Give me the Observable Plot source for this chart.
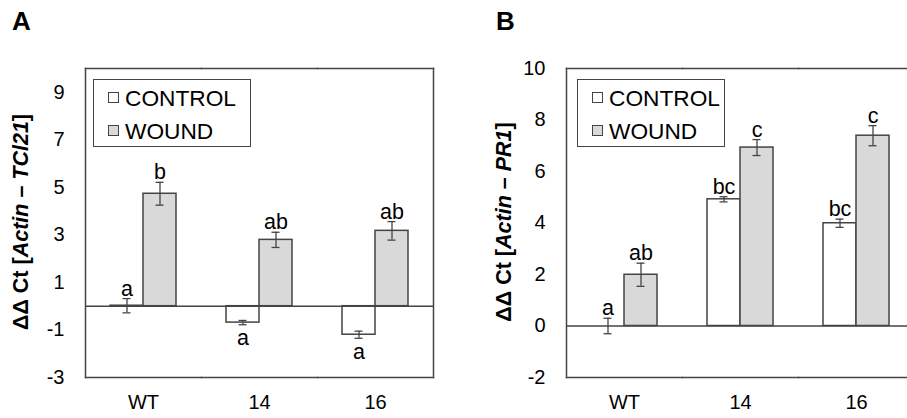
<!DOCTYPE html>
<html>
<head>
<meta charset="utf-8">
<script src="https://cdn.jsdelivr.net/npm/d3@7"></script>
<script src="https://cdn.jsdelivr.net/npm/@observablehq/plot@0.6"></script>
<style>
  html, body { margin: 0; padding: 0; background: #fff; overflow: hidden; }
  #chart { position: relative; width: 907px; height: 418px; overflow: hidden; font-family: "Liberation Sans", Arial, sans-serif; color: #000; }
  .panel { position: absolute; top: 0; }
  .plabel { position: absolute; font-weight: bold; font-size: 26px; line-height: 1; }
  .ytitle { position: absolute; font-weight: bold; font-size: 21.5px; white-space: nowrap; transform: translate(-50%, -50%) rotate(-90deg); line-height: 1; }
  .legend { position: absolute; border: 1.5px solid #444; box-sizing: border-box; background: #fff; }
  .legend .sw { position: absolute; width: 11px; height: 11px; border: 1px solid #444; box-sizing: border-box; }
  .legend .lt { position: absolute; font-size: 22.7px; line-height: 1; transform: translateY(-50%); }
</style>
</head>
<body>
<div id="chart"></div>
<script>
// ---- data ----
const groups = ["WT", "14", "16"];
const series = ["CONTROL", "WOUND"];
const seriesFill = ["#ffffff", "#d9d9d9"];

// Panel A: ΔΔCt [Actin – TCl21]
const ticksA = [-3, -1, 1, 3, 5, 7, 9];
const controlA = [0.02, -0.69, -1.2];
const controlErrA = [0.3, 0.09, 0.15];
const woundA = [4.73, 2.79, 3.17];
const woundErrA = [0.48, 0.32, 0.39];
const controlLetA = ["a", "a", "a"];
const woundLetA = ["b", "ab", "ab"];

// Panel B: ΔΔCt [Actin – PR1]
const ticksB = [-2, 0, 2, 4, 6, 8, 10];
const controlB = [0.0, 4.92, 3.99];
const controlErrB = [0.3, 0.1, 0.16];
const woundB = [1.99, 6.93, 7.39];
const woundErrB = [0.45, 0.31, 0.39];
const controlLetB = ["a", "bc", "bc"];
const woundLetB = ["ab", "c", "c"];

function rows(ctrl, ctrlErr, ctrlLet, wnd, wndErr, wndLet) {
  const out = [];
  groups.forEach((g, i) => {
    out.push({group: g, series: series[0], value: ctrl[i], err: ctrlErr[i], letter: ctrlLet[i]});
    out.push({group: g, series: series[1], value: wnd[i], err: wndErr[i], letter: wndLet[i]});
  });
  return out;
}

const ink = "#444444";
const sw = 1.5;

function panel({data, ticks, domain, width, marginLeft, marginRight}) {
  const pos = data.filter(d => d.value >= 0);
  const neg = data.filter(d => d.value < 0);
  return Plot.plot({
    width, height: 418,
    marginTop: 68, marginBottom: 41, marginLeft, marginRight,
    style: {fontFamily: "'Liberation Sans', Arial, sans-serif", fontSize: "20px", color: "#000", background: "transparent", overflow: "visible"},
    fx: {domain: groups, padding: 0, label: null, axis: null},
    x: {domain: series, paddingInner: 0, paddingOuter: 0.75, axis: null},
    y: {domain, label: null, axis: null},
    color: {domain: series, range: seriesFill},
    marks: [
      Plot.axisY({ticks, tickSize: 0, tickPadding: 21, fontSize: 20, label: null, tickFormat: d => String(d), fill: "#000"}),
      Plot.axisFx({anchor: "bottom", tickSize: 0, tickPadding: 17, fontSize: 20, label: null, fill: "#000"}),
      Plot.barY(data, {fx: "group", x: "series", y: "value", fill: "series", stroke: ink, strokeWidth: sw}),
      Plot.ruleY([0], {stroke: ink, strokeWidth: sw}),
      Plot.ruleX(data, {fx: "group", x: "series", y1: d => d.value - d.err, y2: d => d.value + d.err, stroke: ink, strokeWidth: 1.3}),
      Plot.tickY(data, {fx: "group", x: "series", y: d => d.value - d.err, stroke: ink, strokeWidth: 1.3, insetLeft: 12.5, insetRight: 12.5}),
      Plot.tickY(data, {fx: "group", x: "series", y: d => d.value + d.err, stroke: ink, strokeWidth: 1.3, insetLeft: 12.5, insetRight: 12.5}),
      Plot.text(pos, {fx: "group", x: "series", y: d => d.value + d.err, text: "letter", lineAnchor: "bottom", dy: -3, fontSize: 21.5, fill: "#000"}),
      Plot.text(neg, {fx: "group", x: "series", y: d => d.value - d.err, text: "letter", lineAnchor: "top", dy: 5, fontSize: 21.5, fill: "#000"}),
      Plot.frame({anchor: "top", stroke: ink, strokeWidth: sw}),
      Plot.frame({anchor: "bottom", stroke: ink, strokeWidth: sw}),
      Plot.frame({anchor: "left", facetAnchor: "left", stroke: ink, strokeWidth: sw}),
      Plot.frame({anchor: "right", facetAnchor: "right", stroke: ink, strokeWidth: sw})
    ]
  });
}

const chart = document.getElementById("chart");

const plotA = panel({
  data: rows(controlA, controlErrA, controlLetA, woundA, woundErrA, woundLetA),
  ticks: ticksA, domain: [-3, 10], width: 460, marginLeft: 84, marginRight: 27
});
plotA.classList.add("panel");
plotA.style.left = "0px";
chart.appendChild(plotA);

const plotB = panel({
  data: rows(controlB, controlErrB, controlLetB, woundB, woundErrB, woundLetB),
  ticks: ticksB, domain: [-2, 10], width: 454, marginLeft: 106, marginRight: 0
});
plotB.classList.add("panel");
plotB.style.left = "460px";
chart.appendChild(plotB);

function addHTML(html) { chart.insertAdjacentHTML("beforeend", html); }

addHTML(`<div class="plabel" style="left:12px;top:8px">A</div>`);
addHTML(`<div class="plabel" style="left:496px;top:8px">B</div>`);
addHTML(`<div class="ytitle" style="left:22px;top:222px">ΔΔ Ct [<i>Actin</i> – <i>TCl21</i>]</div>`);
addHTML(`<div class="ytitle" style="left:505px;top:222px">ΔΔ Ct [<i>Actin</i> – <i>PR1</i>]</div>`);

function legend(left, top, w, h) {
  addHTML(`<div class="legend" style="left:${left}px;top:${top}px;width:${w}px;height:${h}px">
    <div class="sw" style="left:14px;top:12px;background:${seriesFill[0]}"></div>
    <div class="lt" style="left:31px;top:18px">${series[0]}</div>
    <div class="sw" style="left:14px;top:45px;background:${seriesFill[1]}"></div>
    <div class="lt" style="left:31px;top:51px">${series[1]}</div>
  </div>`);
}
legend(93, 79, 158, 68);
legend(577, 79, 148, 68);
</script>
</body>
</html>
